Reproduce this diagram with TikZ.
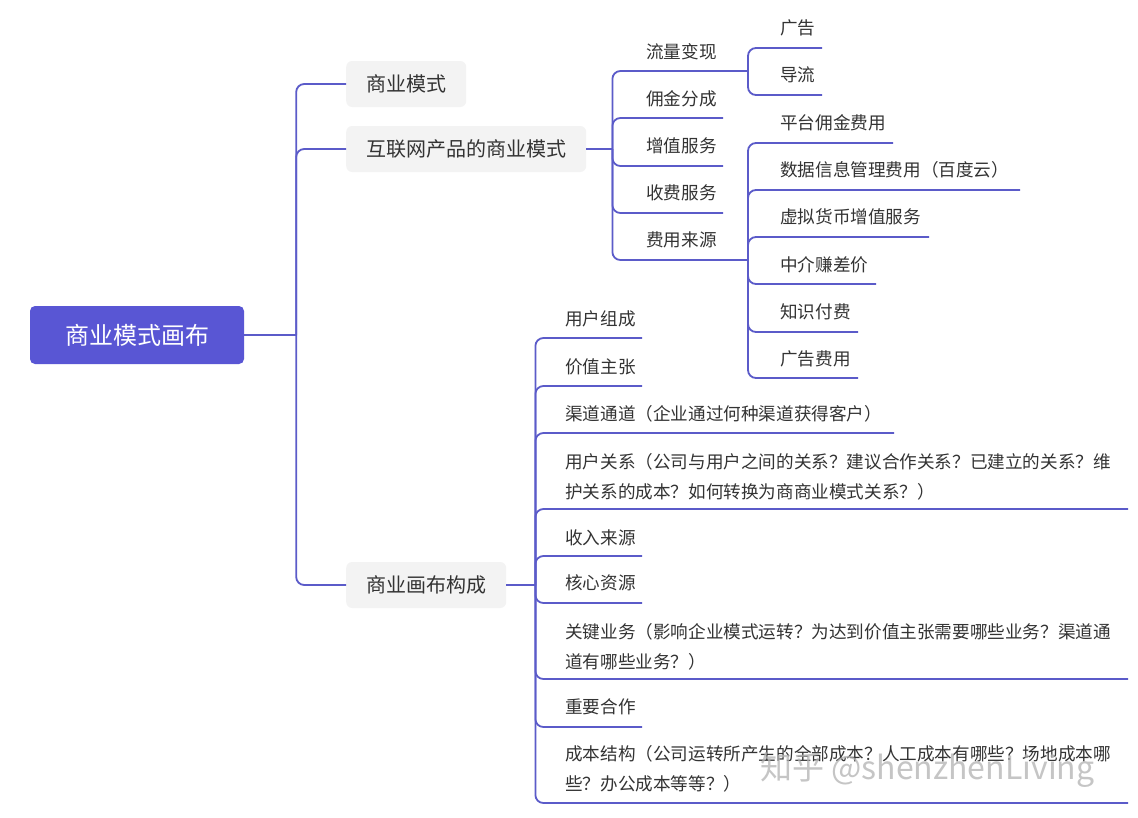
\documentclass[tikz,border=0pt]{standalone}
\usepackage{fontspec}
\setmainfont{Noto Sans CJK SC}
\definecolor{lineblue}{HTML}{5B5BC9}
\definecolor{rootfill}{HTML}{5956D4}
\definecolor{boxfill}{HTML}{F3F3F3}
\definecolor{txt}{HTML}{333333}
\begin{document}
\begin{tikzpicture}[x=1pt,y=-1pt,
  conn/.style={draw=lineblue, line width=1.8pt, rounded corners=8pt},
  rootbox/.style={fill=rootfill, rounded corners=5pt, text=white, font=\fontsize{24}{24}\selectfont, minimum width=214pt, minimum height=58pt, inner sep=0pt},
  topicbox/.style={fill=boxfill, rounded corners=6pt, text=txt, font=\fontsize{20}{20}\selectfont, minimum height=46pt, inner xsep=20pt, inner ysep=0pt, anchor=west},
  leaf/.style={text=txt, font=\fontsize{17.6}{30}\selectfont, anchor=west, inner sep=0pt, align=left},
  wmark/.style={text=black!30, opacity=0.75, font=\fontsize{32}{32}\selectfont, anchor=west, inner sep=0pt}
]
\useasboundingbox (0,0) rectangle (1138,817);
\fill[white] (0,0) rectangle (1138,817);

% root and first level
\node[rootbox] (root) at (137,335) {商业模式画布};
\node[topicbox] (b1) at (346,84) {商业模式};
\node[topicbox] (b2) at (346,149) {互联网产品的商业模式};
\node[topicbox] (b3) at (346,585) {商业画布构成};

\coordinate (j0) at ([xshift=52pt]root.east);
\draw[conn] (root.east) -- (j0);
\draw[conn] (j0) |- (b1.west);
\draw[conn] (j0) |- (b2.west);
\draw[conn] (j0) |- (b3.west);

% second level under b2
\coordinate (j1) at ([xshift=26pt]b2.east);
\draw[conn] (b2.east) -- (j1);
\node[leaf] (a1) at (646,52) {流量变现};   \coordinate (ua1) at (748,71);
\node[leaf] (a2) at (646,99) {佣金分成};   \coordinate (ua2) at (723,118);
\node[leaf] (a3) at (646,146) {增值服务};  \coordinate (ua3) at (723,166);
\node[leaf] (a4) at (646,193) {收费服务};  \coordinate (ua4) at (723,213);
\node[leaf] (a5) at (646,240) {费用来源};  \coordinate (ua5) at (748,260);
\foreach \u in {ua1,ua2,ua3,ua4,ua5} \draw[conn] (j1) |- (\u);

% children of 流量变现
\node[leaf] (a11) at (780,28) {广告};  \coordinate (ua11) at (822,48);
\node[leaf] (a12) at (780,75) {导流};  \coordinate (ua12) at (822,95);
\foreach \u in {ua11,ua12} \draw[conn] (ua1) |- (\u);

% children of 费用来源
\node[leaf] (a51) at (780,123) {平台佣金费用};              \coordinate (ua51) at (893,143);
\node[leaf] (a52) at (780,170) {数据信息管理费用（百度云）};  \coordinate (ua52) at (1020,190);
\node[leaf] (a53) at (780,217) {虚拟货币增值服务};          \coordinate (ua53) at (929,237);
\node[leaf] (a54) at (780,265) {中介赚差价};                \coordinate (ua54) at (876,284);
\node[leaf] (a55) at (780,312) {知识付费};                  \coordinate (ua55) at (858,332);
\node[leaf] (a56) at (780,359) {广告费用};                  \coordinate (ua56) at (858,378);
\foreach \u in {ua51,ua52,ua53,ua54,ua55,ua56} \draw[conn] (ua5) |- (\u);

% second level under b3
\coordinate (j3) at ([xshift=29pt]b3.east);
\draw[conn] (b3.east) -- (j3);
\node[leaf] (c1) at (565,319) {用户组成};  \coordinate (uc1) at (642,338);
\node[leaf] (c2) at (565,367) {价值主张};  \coordinate (uc2) at (642,386);
\node[leaf] (c3) at (565,414) {渠道通道（企业通过何种渠道获得客户）};  \coordinate (uc3) at (894,433);
\node[leaf] (c4) at (565,477) {用户关系（公司与用户之间的关系？建议合作关系？已建立的关系？维\\护关系的成本？如何转换为商商业模式关系？）};  \coordinate (uc4) at (1128,509);
\node[leaf] (c5) at (565,538) {收入来源};  \coordinate (uc5) at (642,556);
\node[leaf] (c6) at (565,583) {核心资源};  \coordinate (uc6) at (642,603);
\node[leaf] (c7) at (565,647) {关键业务（影响企业模式运转？为达到价值主张需要哪些业务？渠道通\\道有哪些业务？）};  \coordinate (uc7) at (1128,679);
\node[leaf] (c8) at (565,707) {重要合作};  \coordinate (uc8) at (642,727);
\node[leaf] (c9) at (565,769) {成本结构（公司运转所产生的全部成本？人工成本有哪些？场地成本哪\\些？办公成本等等？）};  \coordinate (uc9) at (1128,803);
\foreach \u in {uc1,uc2,uc3,uc4,uc5,uc6,uc7,uc8,uc9} \draw[conn] (j3) |- (\u);

% watermark
\node[wmark] (wm) at (760,770) {知乎 @shenzhenLiving};
\end{tikzpicture}
\end{document}
